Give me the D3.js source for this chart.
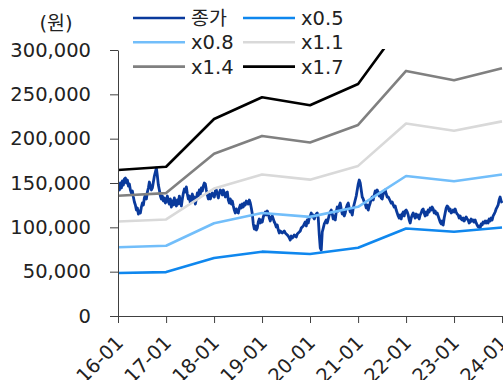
<!DOCTYPE html>
<html>
<head>
<meta charset="utf-8">
<script src="https://cdn.jsdelivr.net/npm/d3@7"></script>
<style>
  html, body { margin: 0; padding: 0; background: #fff; }
  svg { display: block; font-family: "DejaVu Sans", "Noto Sans CJK KR", sans-serif; }
</style>
</head>
<body>
<svg id="chart" width="503" height="380"></svg>
<script>
// ---- data ----
const bandDates = ["2016-01-01","2017-01-01","2018-01-01","2019-01-01","2020-01-01","2021-01-01","2022-01-01","2023-01-01","2024-01-01"];
const band05 = [48450, 49500, 65350, 72550, 69900, 76950, 98700, 94950, 99750];
const band08 = [77500, 79200, 104600, 116100, 111800, 123100, 157900, 151900, 159600];
const band11 = [106600, 108900, 143800, 159600, 153800, 169300, 217100, 208900, 219500];
const band14 = [135700, 138600, 183000, 203100, 195700, 215500, 276400, 265900, 279300];
const band17 = [164700, 168300, 222200, 246700, 237700, 261600, 335600, 322800, 339200];
const priceStart = "2016-01-04";
const priceEnd = "2024-01-02";
const priceValues = [
146600,142100,150000,144400,152300,147700,154500,155600,150000,153400,146600,148900,142100,138700,141000,134200,128600,125200,119500,121800,
115000,118400,116200,122900,127400,125200,133100,136500,132000,139800,144400,151100,146600,142100,144400,151100,157900,162400,166900,157900,
147700,142100,135300,132000,135300,129700,133100,127400,130800,135300,128600,126300,132000,122900,129700,125200,133100,127400,124100,130800,
126300,135300,129700,124100,132000,138700,143200,139800,145500,137600,132000,135300,127400,133100,137600,130800,134200,126300,132000,138700,
135300,142100,137600,144400,141000,146600,150000,148900,142100,136500,132000,137600,132000,135300,138700,136500,134200,141000,142100,137600,
133100,138700,142100,141000,136500,142100,138700,134200,138700,139800,130800,127400,132000,126300,129700,124100,119500,116200,120700,117300,
116200,121800,125200,121800,126300,122900,127400,125200,129700,128600,126300,130800,127400,121800,115000,103800,98100,101500,97000,99200,
106000,109400,104900,108300,106000,111700,115000,117300,113900,118400,115000,110500,107100,111700,112800,109400,106000,103800,100400,102600,
97000,93600,95900,94700,93600,94700,95900,93600,92500,91400,90200,88000,85700,90200,88000,89100,91400,90200,89100,92500,
93600,94700,95900,99200,100400,101500,103800,106000,101500,108300,104900,110500,112800,116200,111700,113900,109400,112800,115000,116200,
110500,91400,76700,74400,94700,99200,103800,106000,108300,104900,109400,113900,117300,119500,115000,109400,112800,108300,117300,122900,
118400,124100,127400,120700,115000,117300,112800,116200,121800,125200,127400,121800,117300,119500,113900,121800,126300,130800,135300,142100,
148900,153400,150000,142100,134200,132000,128600,126300,121800,125200,119500,124100,127400,132000,134200,130800,136500,141000,137600,142100,
138700,135300,138700,133100,132000,137600,139800,142100,137600,134200,134200,132000,129700,127400,128600,125200,122900,124100,119500,116200,
112800,110500,113900,109400,115000,117300,112800,118400,119500,117300,113900,108300,104900,110500,113900,116200,112800,110500,115000,111700,
113900,109400,113900,116200,119500,120700,116200,112800,117300,113900,119500,117300,121800,119500,122900,120700,116200,118400,115000,116200,
112800,109400,106000,103800,107100,102600,110500,116200,121800,124100,122900,118400,120700,116200,117300,119500,117300,120700,117300,115000,
113900,110500,112800,109400,108300,110500,107100,109400,111700,109400,108300,104900,106000,109400,107100,108300,106000,108300,104900,102600,
100400,101500,99200,103800,102600,106000,104900,107100,104900,107100,104900,109400,107100,110500,108300,112800,115000,117300,120700,122900,
125200,130800,134200,129700,127400
];
const yTicks = [0, 50000, 100000, 150000, 200000, 250000, 300000];
const xTickLabels = ["16-01","17-01","18-01","19-01","20-01","21-01","22-01","23-01","24-01"];
const seriesNames = ["종가","x0.5","x0.8","x1.1","x1.4","x1.7"];
const seriesColors = ["#0A3A9C","#0F87EE","#72BEFA","#D9D9D9","#808080","#000000"];

// ---- chart ----
const svg = d3.select("#chart");
const pLeft = 118, pRight = 502, pTop = 50, pBottom = 316;
const fontSize = 19.5;
const parse = d3.timeParse("%Y-%m-%d");
const x = d3.scaleTime().domain([parse("2016-01-01"), parse("2024-01-01")]).range([pLeft, pRight]);
const y = d3.scaleLinear().domain([0, 300000]).range([pBottom, pTop]);

svg.append("defs").append("clipPath").attr("id", "plot")
  .append("rect").attr("x", pLeft).attr("y", pTop - 1).attr("width", 503 - pLeft).attr("height", pBottom - pTop + 1);

const priceIdx = d3.scaleLinear().domain([0, priceValues.length - 1])
  .range([parse(priceStart).getTime(), parse(priceEnd).getTime()]);
const priceData = priceValues.map((v, i) => ({ d: new Date(priceIdx(i)), v }));

const line = d3.line().x(p => x(p.d)).y(p => y(p.v));
const g = svg.append("g").attr("clip-path", "url(#plot)");

g.append("path").datum(priceData)
  .attr("d", line).attr("fill", "none")
  .attr("stroke", seriesColors[0]).attr("stroke-width", 2.8).attr("stroke-linejoin", "round");

const bands = [band05, band08, band11, band14, band17];
bands.forEach((b, k) => {
  const data = b.map((v, i) => ({ d: parse(bandDates[i]), v }));
  g.append("path").datum(data)
    .attr("d", line).attr("fill", "none")
    .attr("stroke", seriesColors[k + 1]).attr("stroke-width", 2.6).attr("stroke-linejoin", "round");
});

// axes
const axisColor = "#404040";
const yAxis = svg.append("g").attr("transform", `translate(${pLeft},0)`)
  .call(d3.axisLeft(y).tickValues(yTicks).tickFormat(d3.format(",")).tickSizeInner(8).tickSizeOuter(0).tickPadding(19));
yAxis.selectAll("path,line").attr("stroke", axisColor);
yAxis.selectAll("text").attr("font-size", fontSize).attr("fill", "#222").attr("font-family", "DejaVu Sans");

const xAxis = svg.append("g").attr("transform", `translate(0,${pBottom})`)
  .call(d3.axisBottom(x).tickValues(bandDates.map(parse)).tickFormat((d, i) => xTickLabels[i]).tickSizeInner(7).tickSizeOuter(0));
xAxis.selectAll("path,line").attr("stroke", axisColor);
xAxis.selectAll("text")
  .attr("font-size", fontSize).attr("fill", "#222").attr("font-family", "DejaVu Sans")
  .attr("text-anchor", "end").attr("y", 0).attr("dy", 0)
  .attr("transform", "translate(6,28) rotate(-45)");

// unit label
svg.append("text").attr("x", 56).attr("y", 30).attr("text-anchor", "middle")
  .attr("font-size", fontSize).attr("fill", "#222").text("(원)");

// legend
const legend = svg.append("g");
seriesNames.forEach((name, i) => {
  const col = i % 2, row = Math.floor(i / 2);
  const lx = 133 + col * 110, ly = 18 + row * 24.3;
  legend.append("line").attr("x1", lx).attr("x2", lx + 52).attr("y1", ly).attr("y2", ly)
    .attr("stroke", seriesColors[i]).attr("stroke-width", 2.6);
  legend.append("text").attr("x", lx + 58).attr("y", ly).attr("dy", "0.36em")
    .attr("font-size", fontSize).attr("fill", "#222").text(name);
});
</script>
</body>
</html>
